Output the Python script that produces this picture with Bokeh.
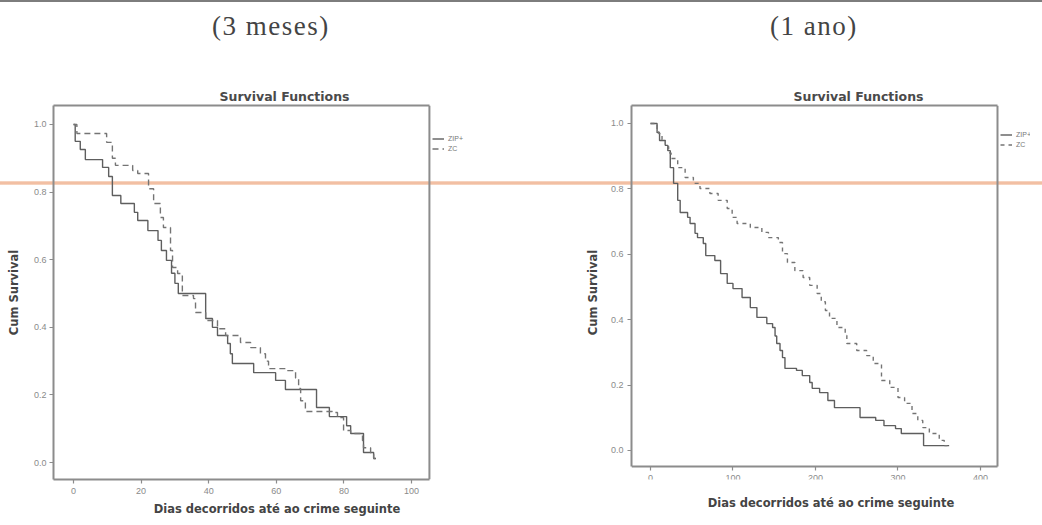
from bokeh.plotting import figure
from bokeh.layouts import column, row
from bokeh.models import (Div, Legend, LegendItem, FixedTicker, PrintfTickFormatter, Range1d,
                          LinearAxis, BoxAnnotation)
from bokeh.embed import file_html
from bokeh.resources import INLINE

# ---------------- data ----------------
panel_titles = ["(3 meses)", "(1 ano)"]
chart_title = "Survival Functions"
x_label = "Dias decorridos até ao crime seguinte"
y_label = "Cum Survival"
groups = ["ZIP+", "ZC"]

# 3 months: ZIP+ (solid)
t_zip_3m = [0, 0.5, 2, 3.5, 8.6, 10.4, 11.5, 14, 18, 19, 22, 25, 26, 27.5, 29, 30, 31,
            39.1, 41.1, 42.6, 45.6, 46.4, 47, 53.3, 59.8, 62.7, 71.9, 75.7, 80.8, 82,
            85.8, 88.8, 89.5]
s_zip_3m = [1.0, 0.95, 0.926, 0.896, 0.873, 0.846, 0.79, 0.766, 0.74, 0.716, 0.686, 0.657,
            0.627, 0.598, 0.56, 0.53, 0.50, 0.426, 0.40, 0.376, 0.352, 0.322, 0.293, 0.266,
            0.243, 0.216, 0.163, 0.136, 0.109, 0.086, 0.03, 0.012, 0.012]
# 3 months: ZC (dashed)
t_zc_3m = [0, 1, 9.8, 11.5, 12.4, 17.5, 19, 22.2, 23.7, 25.7, 26.6, 28.7, 29.3, 30.8, 32.2,
           35.5, 36.1, 39.1, 42.6, 45, 49.4, 52.4, 55.3, 56.8, 57.7, 63.3, 65.7, 66.6, 67.2,
           68.6, 76.6, 78.1, 79.9, 82, 85.5, 85.8, 87.9, 88.8, 89.5]
s_zc_3m = [1.0, 0.973, 0.947, 0.90, 0.879, 0.864, 0.855, 0.81, 0.766, 0.725, 0.695, 0.627,
           0.577, 0.559, 0.494, 0.485, 0.444, 0.42, 0.396, 0.376, 0.355, 0.34, 0.322, 0.30,
           0.278, 0.272, 0.25, 0.219, 0.183, 0.151, 0.148, 0.133, 0.095, 0.086, 0.065, 0.044,
           0.027, 0.012, 0.012]

# 1 year: ZIP+ (solid)
t_zip_1y = [0, 8, 11, 18, 21, 24, 28, 33, 36, 45, 48, 54, 57, 64, 67, 78, 85, 93, 100, 111,
            121, 129, 141, 148, 151, 153, 157, 160, 163, 177, 184, 193, 196, 205, 215, 223,
            254, 273, 283, 297, 304, 331, 362]
s_zip_1y = [1.0, 0.972, 0.948, 0.933, 0.917, 0.865, 0.817, 0.765, 0.728, 0.713, 0.694, 0.664,
            0.651, 0.633, 0.596, 0.581, 0.541, 0.511, 0.495, 0.468, 0.437, 0.407, 0.388,
            0.376, 0.35, 0.327, 0.306, 0.284, 0.251, 0.245, 0.229, 0.208, 0.19, 0.177, 0.153,
            0.131, 0.101, 0.092, 0.076, 0.067, 0.052, 0.015, 0.015]
# 1 year: ZC (dashed)
t_zc_1y = [0, 8, 10, 14, 18, 22, 25, 33, 42, 52, 60, 72, 82, 93, 99, 105, 121, 135, 143, 155,
           160, 166, 175, 185, 193, 202, 207, 212, 217, 226, 236, 238, 250, 262, 270, 280,
           290, 300, 308, 317, 324, 330, 338, 350, 356, 360]
s_zc_1y = [1.0, 0.978, 0.969, 0.95, 0.93, 0.91, 0.893, 0.865, 0.835, 0.817, 0.801, 0.786,
           0.765, 0.74, 0.713, 0.694, 0.682, 0.667, 0.651, 0.636, 0.602, 0.575, 0.55, 0.529,
           0.505, 0.48, 0.455, 0.428, 0.404, 0.376, 0.352, 0.327, 0.306, 0.29, 0.266, 0.214,
           0.193, 0.162, 0.144, 0.113, 0.092, 0.07, 0.052, 0.031, 0.015, 0.015]

y_ticks = [0.0, 0.2, 0.4, 0.6, 0.8, 1.0]
x_ticks_3m = [0, 20, 40, 60, 80, 100]
x_ticks_1y = [0, 100, 200, 300, 400]

GRAY = "#8c8c8c"
ORANGE_BG = ("linear-gradient(to bottom, transparent 123px, #f8dccb 123px, "
             "#f2bfa3 124.5px, #f2bfa3 125.5px, #f8dccb 127px, transparent 127px)")


def style_label(ax):
    ax.axis_label_text_font = "DejaVu Sans"
    ax.axis_label_text_font_size = "11.5px"
    ax.axis_label_text_font_style = "bold"
    ax.axis_label_text_color = "#444444"


def make_plot(cfg):
    x0, x1, xend = cfg["xr"]          # box left, box right, frame right (legend room)
    y0, y1 = cfg["yr"]                # frame bottom / top
    yb = cfg["ybox"]                  # box bottom (x axis position)
    p = figure(width=521, height=467, output_backend="svg", toolbar_location=None,
               x_range=Range1d(x0, xend), y_range=Range1d(y0, y1),
               min_border_left=cfg["mb"][0], min_border_right=cfg["mb"][1],
               min_border_top=47, min_border_bottom=46,
               border_fill_color=None, background_fill_color=None,
               styles={"background": ORANGE_BG})
    p.title.text = chart_title
    p.title.text_font = "DejaVu Sans"
    p.title.text_font_size = "12.5px"
    p.title.text_font_style = "bold"
    p.title.text_color = "#4a4a4a"
    p.title.align = "left"
    p.title.offset = cfg["title_offset"]
    p.title.standoff = 4

    p.outline_line_color = None
    p.xgrid.grid_line_color = None
    p.ygrid.grid_line_color = None

    for ax in (p.xaxis[0], p.yaxis[0]):
        ax.axis_line_color = GRAY
        ax.axis_line_width = 2
        ax.major_tick_line_color = GRAY
        ax.major_tick_line_width = 1.2
        ax.major_tick_out = 4
        ax.major_tick_in = 0
        ax.minor_tick_line_color = None
        ax.major_label_text_font = "Liberation Sans"
        ax.major_label_text_font_size = "9px"
        ax.major_label_text_color = "#8a8a8a"
        style_label(ax)

    p.xaxis.bounds = (x0, x1)
    p.xaxis.ticker = FixedTicker(ticks=cfg["xticks"])
    p.yaxis.ticker = FixedTicker(ticks=y_ticks)
    p.yaxis.formatter = PrintfTickFormatter(format="%.1f")
    p.yaxis.axis_label = y_label
    p.xaxis.major_label_standoff = cfg["xstand"][0]
    p.yaxis.major_label_standoff = cfg["ystand"][0]
    p.yaxis.axis_label_standoff = cfg["ystand"][1]
    if yb is None:
        p.xaxis.axis_label = x_label
        p.xaxis.axis_label_standoff = cfg["xstand"][1]
    else:
        # x axis drawn at the box bottom, its title carried by a bare axis below
        p.xaxis.fixed_location = yb
        p.yaxis.bounds = (yb, y1)
        lab = LinearAxis(ticker=FixedTicker(ticks=[]), axis_line_color=None,
                         major_tick_line_color=None, minor_tick_line_color=None,
                         axis_label=x_label, axis_label_standoff=cfg["xstand"][1])
        style_label(lab)
        p.add_layout(lab, "below")

    # box: top border as a bare axis, right border as a thin box annotation
    top = LinearAxis(bounds=(x0, x1), ticker=FixedTicker(ticks=[]),
                     axis_line_color=GRAY, axis_line_width=2,
                     major_tick_line_color=None, minor_tick_line_color=None)
    p.add_layout(top, "above")
    p.add_layout(BoxAnnotation(left=x1, right=x1, bottom=(yb if yb is not None else y0),
                               fill_color=None, fill_alpha=0,
                               line_color=GRAY, line_width=2, line_alpha=1))

    r1 = p.step(cfg["t1"], cfg["s1"], mode="after", line_color="#5e5e5e", line_width=1.4)
    r2 = p.step(cfg["t2"], cfg["s2"], mode="after", line_color="#747474", line_width=1.4,
                line_dash=cfg["dash"])

    leg = Legend(items=[LegendItem(label=groups[0], renderers=[r1]),
                        LegendItem(label=groups[1], renderers=[r2])],
                 location=cfg["legloc"], orientation="vertical",
                 glyph_width=12, glyph_height=9, label_height=9, spacing=1,
                 label_standoff=4, padding=0, margin=0,
                 label_text_font="Liberation Sans", label_text_font_size="7px",
                 label_text_color="#777777",
                 border_line_color=None, background_fill_color=None)
    p.add_layout(leg)
    return p


# both frames span y 105..479 px; left box = frame, right box bottom at 466 px
p1 = make_plot(dict(xr=(-5.92, 105.3, 126.33), yr=(-0.050, 1.056), ybox=None,
                    mb=(53, 21), title_offset=166, xticks=x_ticks_3m,
                    xstand=(4, 5), ystand=(3, 10),
                    t1=t_zip_3m, s1=s_zip_3m, t2=t_zc_3m, s2=s_zc_3m, dash="6 4",
                    legloc=(379, 326)))
p2 = make_plot(dict(xr=(-23.0, 420.6, 460.6), yr=(-0.0887, 1.055), ybox=-0.0489,
                    mb=(110, 12), title_offset=162, xticks=x_ticks_1y,
                    xstand=(5, 16), ystand=(4, 8),
                    t1=t_zip_1y, s1=s_zip_1y, t2=t_zc_1y, s2=s_zc_1y, dash="4 4",
                    legloc=(369, 330)))

BAR_BG = "linear-gradient(to bottom, #7d7d7d 0px, #7d7d7d 2px, transparent 2px)"


def head(text, pad):
    return Div(text=f'<div style="padding-left:{pad}px;padding-top:11px;'
                    f'font-family:\'Liberation Serif\';font-size:27px;color:#444;'
                    f'letter-spacing:1.5px;white-space:nowrap;line-height:1.15">{text}</div>',
               width=521, height=58, margin=0, styles={"background": BAR_BG})


d1 = head(panel_titles[0], 212)
d2 = head(panel_titles[1], 249)

layout = column(row(d1, d2, margin=0), row(p1, p2, margin=0), margin=0)
open("out.html", "w").write(file_html(layout, INLINE))
